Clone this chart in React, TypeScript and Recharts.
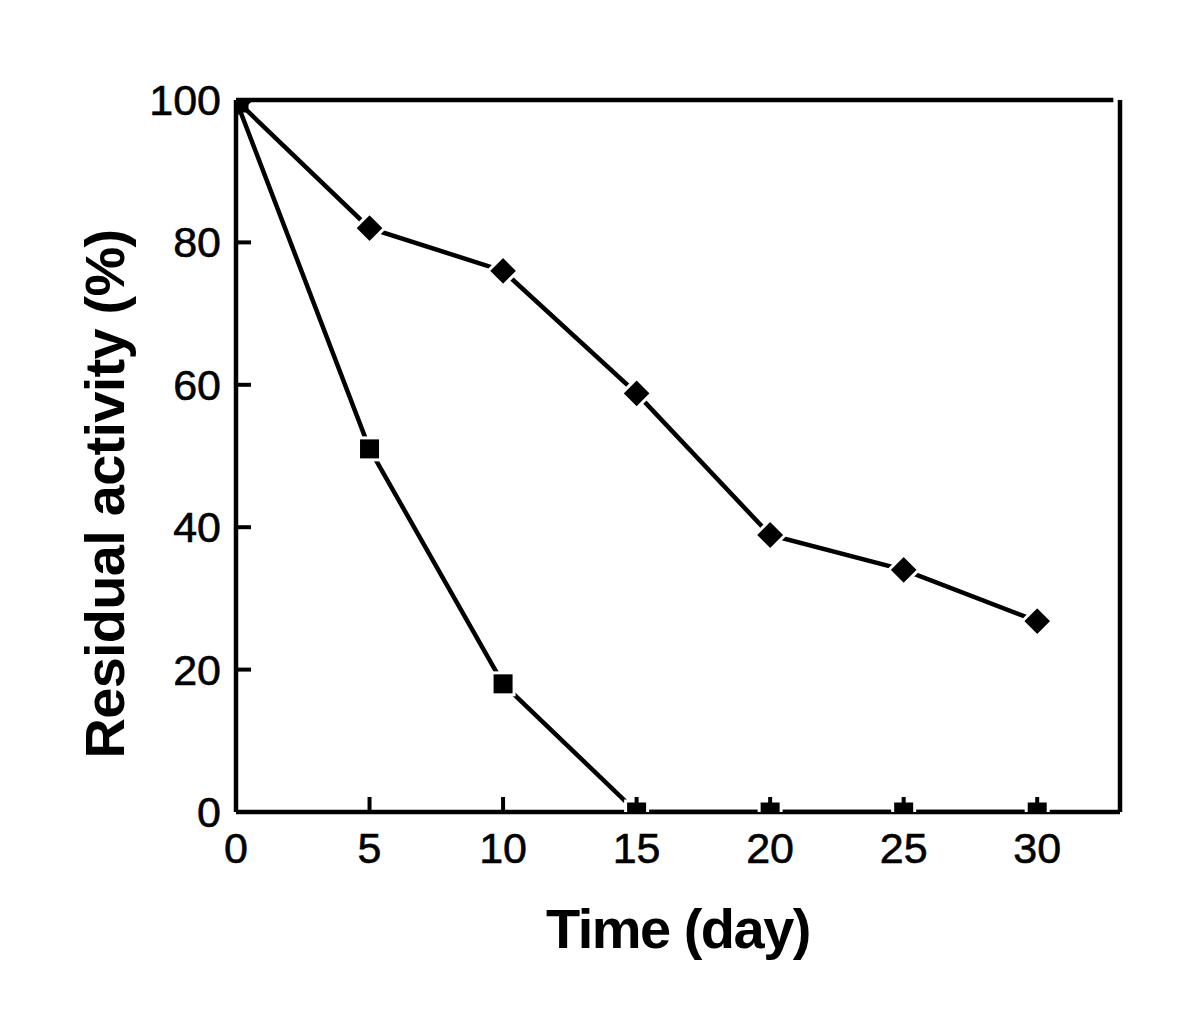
import React from 'react';
import { LineChart, Line, XAxis, YAxis, ReferenceLine } from 'recharts';

const days = [0, 5, 10, 15, 20, 25, 30];
const diamondValues = [100, 82, 76, 58.8, 38.9, 34, 26.8];
const squareValues = [100, 51, 18, 0, 0, 0, 0];
const xTicks = [0, 5, 10, 15, 20, 25, 30];
const yTicks = [0, 20, 40, 60, 80, 100];
const xMax = 33.1;

const data = days.map((d, i) => ({ day: d, diamond: diamondValues[i], square: squareValues[i] }));

const FONT = '"Liberation Sans", Arial, Helvetica, sans-serif';

const XTick = (props: any) => {
  const { x, y, payload } = props;
  return (
    <g>
      <line x1={x} x2={x} y1={y} y2={y - 15} stroke="#000" strokeWidth={4} />
      <text x={x} y={y + 51} textAnchor="middle" fontSize={43} fontFamily={FONT} fill="#000" stroke="#000" strokeWidth={0.6}>
        {payload.value}
      </text>
    </g>
  );
};

const YTick = (props: any) => {
  const { x, y, payload } = props;
  return (
    <g>
      <line x1={x} x2={x + 15} y1={y} y2={y} stroke="#000" strokeWidth={4} />
      <text x={x - 15} y={y + 15} textAnchor="end" fontSize={43} fontFamily={FONT} fill="#000" stroke="#000" strokeWidth={0.6}>
        {payload.value}
      </text>
    </g>
  );
};

const Diamond = (props: any) => {
  const { cx, cy, index } = props;
  if (cx == null || cy == null) return <g key={`d-${index}`} />;
  const r = 15;
  return (
    <path
      key={`d-${index}`}
      d={`M${cx},${cy - r}L${cx + r},${cy}L${cx},${cy + r}L${cx - r},${cy}Z`}
      fill="#000"
      stroke={index === 0 ? '#000' : '#fff'}
      strokeWidth={3}
    />
  );
};

const Square = (props: any) => {
  const { cx, cy, index } = props;
  if (cx == null || cy == null) return <g key={`s-${index}`} />;
  const h = 11;
  return (
    <rect
      key={`s-${index}`}
      x={cx - h}
      y={cy - h}
      width={2 * h}
      height={2 * h}
      fill="#000"
      stroke={index === 0 ? '#000' : '#fff'}
      strokeWidth={3}
    />
  );
};

const XTitle = (props: any) => {
  const vb = props.viewBox;
  return (
    <text
      x={vb.x + vb.width / 2}
      y={vb.y + 136}
      textAnchor="middle"
      fontSize={56}
      fontWeight="bold"
      letterSpacing={-1.5}
      fontFamily={FONT}
      fill="#000"
    >
      Time (day)
    </text>
  );
};

const YTitle = (props: any) => {
  const vb = props.viewBox;
  const x = 124;
  const y = vb.y + vb.height / 2 + 38;
  return (
    <text
      x={x}
      y={y}
      transform={`rotate(-90 ${x} ${y})`}
      textAnchor="middle"
      fontSize={56}
      fontWeight="bold"
      letterSpacing={-0.75}
      fontFamily={FONT}
      fill="#000"
    >
      Residual activity (%)
    </text>
  );
};

export default function App() {
  return (
    <div style={{ position: 'absolute', left: 0, top: 0, width: 1200, height: 1025, background: '#fff' }}>
      <LineChart width={1200} height={1025} data={data} margin={{ top: 100, right: 80, left: 0, bottom: 0 }}>
        <XAxis
          dataKey="day"
          type="number"
          domain={[0, xMax]}
          ticks={xTicks}
          allowDataOverflow
          height={213}
          tickSize={0}
          tickMargin={0}
          tickLine={false}
          tick={<XTick />}
          axisLine={{ stroke: '#000', strokeWidth: 4.5 }}
          label={{ content: <XTitle /> } as any}
        />
        <YAxis
          type="number"
          domain={[0, 100]}
          ticks={yTicks}
          allowDataOverflow
          width={236}
          tickSize={0}
          tickMargin={0}
          tickLine={false}
          tick={<YTick />}
          axisLine={{ stroke: '#000', strokeWidth: 4.5 }}
          label={{ content: <YTitle /> } as any}
        />
        <ReferenceLine
          segment={[{ x: 0, y: 100 }, { x: 32.85, y: 100 }]}
          stroke="#000"
          strokeWidth={4.5}
          ifOverflow="visible"
        />
        <ReferenceLine
          segment={[{ x: xMax, y: 0 }, { x: xMax, y: 100 }]}
          stroke="#000"
          strokeWidth={4.5}
          ifOverflow="visible"
        />
        <Line
          dataKey="square"
          stroke="#000"
          strokeWidth={4.5}
          dot={<Square />}
          isAnimationActive={false}
        />
        <Line
          dataKey="diamond"
          stroke="#000"
          strokeWidth={4.5}
          dot={<Diamond />}
          isAnimationActive={false}
        />
      </LineChart>
    </div>
  );
}
